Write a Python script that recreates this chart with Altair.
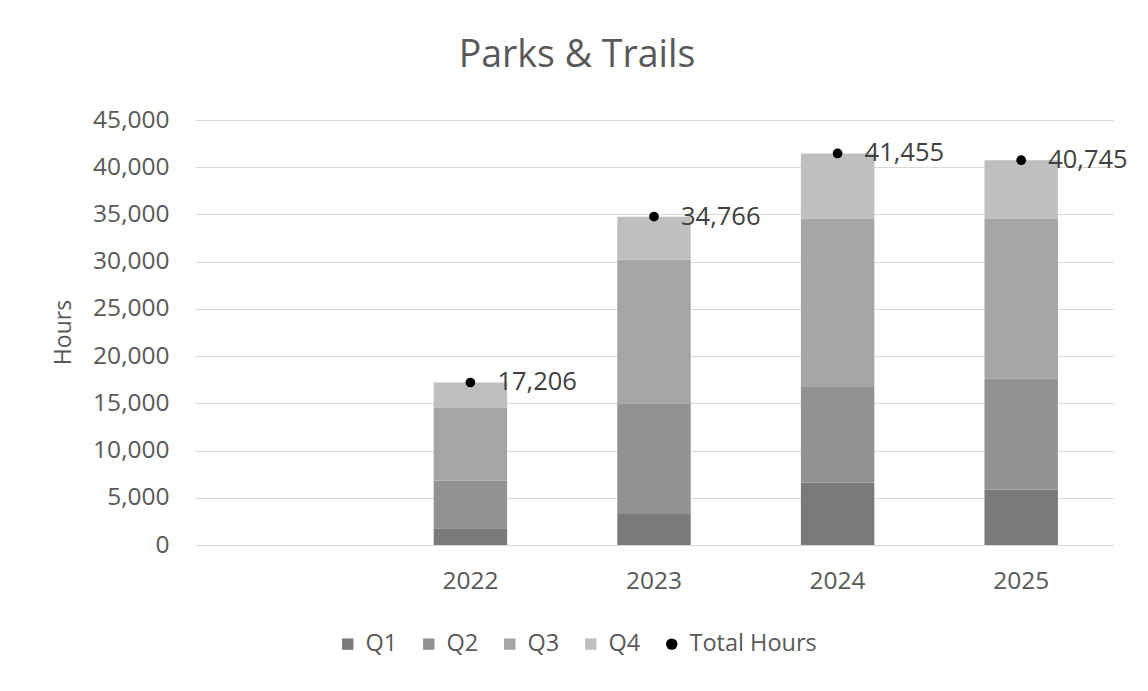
import altair as alt
import pandas as pd

years = ["2022", "2023", "2024", "2025"]
x_domain = [" ", "2022", "2023", "2024", "2025"]
quarters = ["Q1", "Q2", "Q3", "Q4"]
q1 = [1770, 3290, 6610, 5840]
q2 = [5060, 11680, 10130, 11750]
q3 = [7680, 15250, 17830, 16980]
q4 = [2696, 4546, 6885, 6175]
totals = [17206, 34766, 41455, 40745]

series_domain = ["Q1", "Q2", "Q3", "Q4", "Total Hours"]
series_colors = ["#7a7a7a", "#929292", "#a5a5a5", "#bfbfbf", "#000000"]
series_shapes = ["square", "square", "square", "square", "circle"]

rows = []
for qi, (q, vals) in enumerate(zip(quarters, [q1, q2, q3, q4])):
    for y, v in zip(years, vals):
        rows.append({"Year": y, "Series": q, "Hours": v, "Order": qi})
bars_df = pd.DataFrame(rows)
tot_df = pd.DataFrame({"Year": years, "Hours": totals, "Series": ["Total Hours"] * 4})

FONT = "Open Sans"
GREY = "#595959"

x_enc = alt.X(
    "Year:N",
    scale=alt.Scale(domain=x_domain, paddingInner=0.6, paddingOuter=0.3),
    axis=alt.Axis(title=None, labelAngle=0, ticks=False, labelPadding=24,
                  domainColor="#d9d9d9", labelColor=GREY, labelFontSize=24.5,
                  labelFont=FONT, grid=False),
)
y_scale = alt.Scale(domain=[0, 45000], nice=False)
color_scale = alt.Scale(domain=series_domain, range=series_colors)

bars = alt.Chart(bars_df).mark_bar().encode(
    x=x_enc,
    y=alt.Y("Hours:Q", stack="zero", scale=y_scale,
            axis=alt.Axis(title="Hours", values=list(range(0, 45001, 5000)), format=",.0f",
                          domain=False, ticks=False, labelPadding=26,
                          gridColor="#d9d9d9", labelColor=GREY, labelFontSize=24.5,
                          labelFont=FONT, titleColor=GREY, titleFontSize=23,
                          titleFont=FONT, titleFontWeight="normal",
                          titleX=-132, titleY=212, titleAngle=270,
                          titleAlign="center", titleBaseline="middle")),
    color=alt.Color("Series:N", scale=color_scale,
                    legend=alt.Legend(title=None, orient="none", direction="horizontal",
                                      columns=5, legendX=141, legendY=512,
                                      symbolSize=130, labelOffset=6, columnPadding=19,
                                      labelFontSize=23.5, labelFont=FONT, labelColor=GREY,
                                      symbolStrokeWidth=0)),
    order=alt.Order("Order:Q", sort="ascending"),
)

points = alt.Chart(tot_df).mark_point(filled=True, size=95, opacity=1).encode(
    x=alt.X("Year:N", scale=alt.Scale(domain=x_domain)),
    y=alt.Y("Hours:Q", scale=y_scale),
    color=alt.Color("Series:N", scale=color_scale),
    shape=alt.Shape("Series:N", scale=alt.Scale(domain=series_domain, range=series_shapes)),
)

labels = alt.Chart(tot_df).mark_text(align="left", baseline="middle", dx=27,
                                     fontSize=25.5, font=FONT, color="#404040").encode(
    x=alt.X("Year:N", scale=alt.Scale(domain=x_domain)),
    y=alt.Y("Hours:Q", scale=y_scale),
    text=alt.Text("Hours:Q", format=","),
)

chart = alt.layer(bars, points, labels).properties(
    width=918, height=425,
    title=alt.TitleParams("Parks & Trails", fontSize=37.5, font=FONT, color=GREY,
                          fontWeight="normal", anchor="middle", dx=-77, offset=33),
    autosize=alt.AutoSizeParams(type="none"),
    padding={"left": 187, "top": 112, "right": 27, "bottom": 130},
    background="white",
).configure_view(stroke=None)

chart.save("out.html", embed_options={"renderer": "svg", "actions": False})
